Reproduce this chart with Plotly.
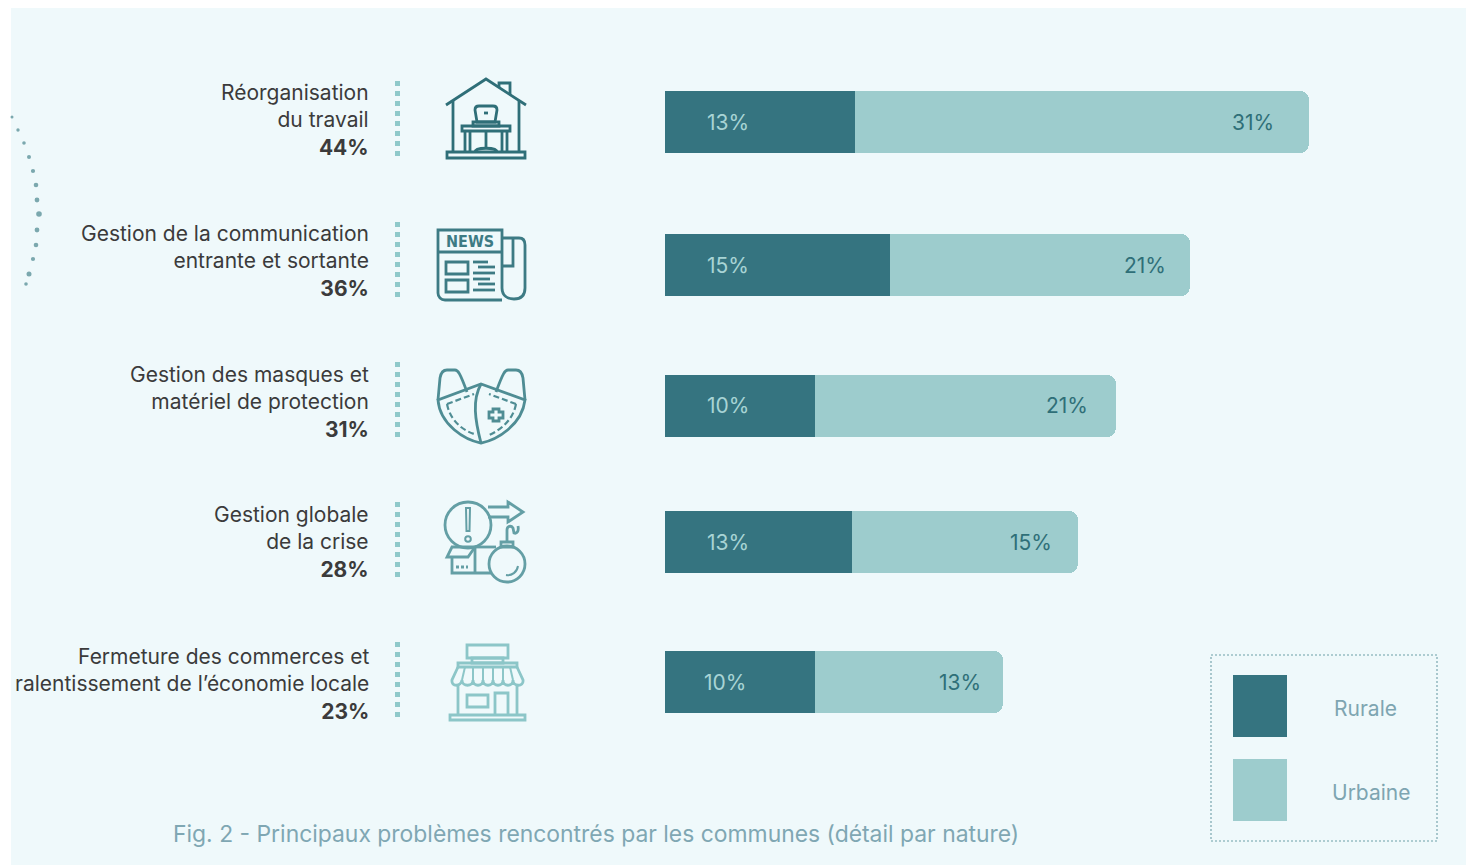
import plotly.graph_objects as go

W, H = 1466, 866

# ---- chart data ----
categories = [
    "Réorganisation<br>du travail<br><b>44%</b>",
    "Gestion de la communication<br>entrante et sortante<br><b>36%</b>",
    "Gestion des masques et<br>matériel de protection<br><b>31%</b>",
    "Gestion globale<br>de la crise<br><b>28%</b>",
    "Fermeture des commerces et<br>ralentissement de l’économie locale<br><b>23%</b>",
]
rural_drawn = [12.98, 15.37, 10.25, 12.8, 10.25]
urban_drawn = [31.0, 20.5, 20.56, 15.44, 12.84]
rural_labels = ["13%", "15%", "10%", "13%", "10%"]
urban_labels = ["31%", "21%", "21%", "15%", "13%"]
series_names = ["Rurale", "Urbaine"]
caption = "Fig. 2 - Principaux problèmes rencontrés par les communes (détail par nature)"

# ---- layout / style (kept apart from the data) ----
FONT = "Inter, Lato, 'Noto Sans', sans-serif"
BG = "#eff9fb"
DARK = "#357480"
LIGHT = "#9dcccd"
row_tops = [91, 234, 375, 511, 651]
row_h = 62
rural_shift = [40, 40, 40, 40, 37]
urban_shift = [-33, -22, -26, -24, -20]
label_yshift = [2, 4, 4, 0, -2]


def X(v):
    return v / W


def Y(v):
    return 1 - v / H


def path(d):
    """SVG-like list [('M',x,y),...] in page pixels -> paper path string"""
    out = []
    for seg in d:
        cmd = seg[0]
        nums = seg[1:]
        pts = []
        for i in range(0, len(nums), 2):
            pts.append(f"{X(nums[i]):.5f},{Y(nums[i+1]):.5f}")
        out.append(cmd + " ".join(pts))
    return " ".join(out)


def poly(*pts, close=False):
    d = [("M",) + pts[0]] + [("L",) + p for p in pts[1:]]
    s = path(d)
    return s + (" Z" if close else "")


def rect_p(x0, y0, x1, y1):
    return poly((x0, y0), (x1, y0), (x1, y1), (x0, y1), close=True)


def circle_p(cx, cy, r):
    k = 0.5523 * r
    return path([
        ("M", cx - r, cy),
        ("C", cx - r, cy - k, cx - k, cy - r, cx, cy - r),
        ("C", cx + k, cy - r, cx + r, cy - k, cx + r, cy),
        ("C", cx + r, cy + k, cx + k, cy + r, cx, cy + r),
        ("C", cx - k, cy + r, cx - r, cy + k, cx - r, cy),
    ]) + " Z"


shapes = []


def stroke(p, color, width=2.8, fill=None, dash=None):
    line = dict(color=color, width=width)
    if dash:
        line["dash"] = dash
    s = dict(type="path", xref="paper", yref="paper", path=p, line=line, layer="above")
    if fill:
        s["fillcolor"] = fill
    shapes.append(s)


def box(x0, y0, x1, y1, fill=None, color=None, width=0, dash=None, layer="below"):
    line = dict(color=color or "rgba(0,0,0,0)", width=width)
    if dash:
        line["dash"] = dash
    shapes.append(dict(type="rect", xref="paper", yref="paper",
                       x0=X(x0), x1=X(x1), y0=Y(y0), y1=Y(y1),
                       fillcolor=fill or "rgba(0,0,0,0)", line=line, layer=layer))


# page panel
box(11, 8, 1466, 865, fill=BG)

# dotted row separators
for y0, y1 in [(81, 157), (222, 300), (362, 438), (502, 578), (642, 718)]:
    shapes.append(dict(type="line", xref="paper", yref="paper", x0=X(397.5), x1=X(397.5),
                       y0=Y(y0), y1=Y(y1), line=dict(color="#8fc9ca", width=5, dash="5px,5px"),
                       layer="below"))

# decorative arc of dots
for x, y, r in [(12, 117, 1.5), (18, 130, 1.7), (24, 143, 1.8), (29, 157, 2.0), (33, 171, 2.1),
                (36, 185, 2.3), (37, 200, 2.4), (39, 214, 2.8), (37, 230, 2.4), (36, 245, 2.3),
                (33, 259, 2.1), (29, 274, 2.5), (26, 284, 1.8)]:
    shapes.append(dict(type="circle", xref="paper", yref="paper",
                       x0=X(x - r), x1=X(x + r), y0=Y(y + r), y1=Y(y - r),
                       fillcolor="#7ba8ae", line=dict(width=0), layer="below"))

# ---- icon: house
c = "#2f6f78"
stroke(poly((446, 105), (486, 79), (526, 105)), c)
stroke(poly((499, 88), (499, 83), (510, 83), (510, 95)), c)
stroke(poly((453, 101), (453, 152)), c)
stroke(poly((519, 101), (519, 152)), c)
stroke(rect_p(447, 152, 525, 158), c)
stroke(rect_p(462, 126, 510, 131), c)
stroke(poly((465, 131), (465, 152)), c)
stroke(poly((470, 131), (470, 152)), c)
stroke(poly((502, 131), (502, 152)), c)
stroke(poly((507, 131), (507, 152)), c)
stroke(path([("M", 477, 122), ("L", 475, 110), ("C", 475, 107, 477, 106, 479, 106), ("L", 493, 106),
             ("C", 495, 106, 497, 107, 497, 110), ("L", 495, 122)]) + " Z", c)
stroke(rect_p(473, 122, 499, 126), c)
stroke(poly((486, 131), (486, 147)), c)
stroke(path([("M", 475, 152), ("C", 475, 147, 497, 147, 497, 152)]), c)
stroke(poly((484, 113), (488, 113)), c)

# ---- icon: newspaper
c = "#3d7b84"
stroke(path([("M", 502, 300), ("L", 445, 300), ("C", 441, 300, 438, 297, 438, 293), ("L", 438, 230),
             ("L", 502, 230), ("L", 502, 288), ("C", 502, 296, 508, 299, 514, 299),
             ("C", 522, 299, 525, 295, 525, 288), ("L", 525, 245), ("C", 525, 240, 523, 238, 519, 238),
             ("L", 502, 238)]), c)
stroke(poly((438, 252), (502, 252)), c)
stroke(path([("M", 513, 238), ("L", 513, 266), ("L", 502, 266)]), c)
stroke(rect_p(446, 262, 468, 274), c)
stroke(rect_p(446, 280, 468, 292), c)
for yy, a, b in [(262, 473, 488), (267, 478, 495), (273, 473, 495), (279, 473, 490), (284, 478, 495), (290, 473, 495)]:
    stroke(poly((a, yy), (b, yy)), c)

# ---- icon: mask
c = "#4f8d94"
stroke(path([("M", 438, 400), ("C", 440, 425, 465, 440, 481, 443), ("C", 497, 440, 522, 425, 525, 400),
             ("L", 481, 384), ("L", 438, 400)]) + " Z", c)
stroke(path([("M", 438, 400), ("L", 440, 378), ("C", 441, 372, 444, 370, 447, 370), ("L", 455, 370),
             ("C", 458, 370, 460, 373, 467, 392)]), c)
stroke(path([("M", 525, 400), ("L", 523, 378), ("C", 522, 372, 519, 370, 516, 370), ("L", 508, 370),
             ("C", 505, 370, 503, 373, 496, 392)]), c)
stroke(path([("M", 481, 384), ("C", 472, 400, 475, 420, 481, 443)]), c)
stroke(path([("M", 447, 404), ("C", 450, 420, 462, 430, 474, 434)]), c, width=2.2, dash="6px,3px")
stroke(path([("M", 516, 404), ("C", 513, 420, 501, 430, 487, 436)]), c, width=2.2, dash="6px,3px")
stroke(poly((447, 404), (474, 394)), c, width=2.2, dash="6px,3px")
stroke(poly((516, 404), (489, 394)), c, width=2.2, dash="6px,3px")
stroke(poly((493, 409), (499, 409), (499, 412), (503, 412), (503, 418), (499, 418), (499, 421), (493, 421),
            (493, 418), (489, 418), (489, 412), (493, 412), close=True), c)

# ---- icon: crisis
c = "#649fa5"
stroke(circle_p(468, 525, 23), c)
stroke(poly((466, 508), (470, 508), (469.5, 531), (466.5, 531), close=True), c, width=2)
stroke(circle_p(468, 539, 2.8), c, width=2)
stroke(poly((488, 507), (508, 507), (508, 502), (523, 512), (508, 522), (508, 517), (488, 517)), c)
stroke(poly((447, 557), (452, 547), (475, 547), (468, 557), close=True), c)
stroke(poly((452, 557), (452, 573), (492, 573)), c)
stroke(poly((475, 547), (475, 573)), c)
stroke(poly((475, 547), (496, 547)), c)
stroke(poly((456, 567), (468, 567)), c, dash="3px,2px")
stroke(circle_p(507, 564, 18), c)
stroke(rect_p(501, 542, 513, 547), c)
stroke(path([("M", 507, 542), ("L", 507, 530), ("C", 507, 526, 511, 525, 513, 528), ("L", 514, 533),
             ("C", 517, 534, 519, 531, 518, 526)]), c)
stroke(path([("M", 506, 575), ("C", 512, 576, 517, 572, 518, 566)]), c, width=2)

# ---- icon: shop
c = "#8cc6c8"
stroke(rect_p(467, 645, 508, 658), c)
stroke(rect_p(472, 658, 503, 663), c)
stroke(rect_p(458, 663, 517, 667), c)
stroke(path([("M", 458, 667), ("L", 452, 680), ("C", 451, 687, 461, 687, 462, 680),
             ("C", 462, 687, 473, 687, 473, 680), ("C", 473, 687, 483, 687, 483, 680),
             ("C", 483, 687, 493, 687, 493, 680), ("C", 493, 687, 503, 687, 503, 680),
             ("C", 503, 687, 513, 687, 513, 680), ("C", 513, 687, 524, 687, 523, 680),
             ("L", 517, 667)]), c)
for a, b in [(462, 465), (473, 473), (483, 483), (493, 493), (503, 503), (513, 510)]:
    stroke(poly((a, 680), (b, 667)), c, width=2)
stroke(poly((458, 685), (458, 715)), c)
stroke(poly((517, 685), (517, 715)), c)
stroke(rect_p(467, 695, 488, 707), c)
stroke(poly((495, 715), (495, 693), (508, 693), (508, 715)), c)
stroke(rect_p(450, 715, 525, 720), c)

# ---- legend box (hand built: swatches are far larger than a plotly legend's)
box(1211, 655, 1437, 841, color="#6d9fa8", width=1.1, dash="2px,2px")
box(1233, 675, 1287, 737, fill=DARK)
box(1233, 759, 1287, 821, fill=LIGHT)

# ---- bars: one row per y axis, all sharing the value axis
fig = go.Figure()
annotations = []
layout_axes = {}
for i, cat in enumerate(categories):
    yname = "y" if i == 0 else f"y{i+1}"
    ykey = "yaxis" if i == 0 else f"yaxis{i+1}"
    fig.add_trace(go.Bar(y=[cat], x=[rural_drawn[i]], name=series_names[0], orientation="h",
                         marker=dict(color=DARK, line=dict(width=0)), xaxis="x", yaxis=yname,
                         showlegend=False))
    fig.add_trace(go.Bar(y=[cat], x=[urban_drawn[i]], name=series_names[1], orientation="h",
                         marker=dict(color=LIGHT, line=dict(width=0)), xaxis="x", yaxis=yname,
                         showlegend=False))
    top = row_tops[i]
    layout_axes[ykey] = dict(
        domain=[Y(top + row_h), Y(top)], anchor="x", type="category",
        range=[-0.5, 0.5], autorange=False,
        showgrid=False, zeroline=False, showline=False, ticks="",
        showticklabels=False, automargin=False,
    )
    # row label, right aligned left of the icon column
    annotations.append(dict(x=0, y=cat, xref="x", yref=yname, text=cat, showarrow=False,
                            xanchor="right", align="right", yanchor="middle",
                            xshift=-295, yshift=label_yshift[i], borderpad=0,
                            font=dict(family=FONT, size=21, color="#3b3b3b")))
    annotations.append(dict(x=0, y=cat, xref="x", yref=yname, text=rural_labels[i], showarrow=False,
                            xanchor="left", xshift=rural_shift[i],
                            font=dict(family=FONT, size=21, color="#a8d4d5")))
    annotations.append(dict(x=rural_drawn[i] + urban_drawn[i], y=cat, xref="x", yref=yname,
                            text=urban_labels[i], showarrow=False, xanchor="right",
                            xshift=urban_shift[i],
                            font=dict(family=FONT, size=21, color="#2f6f78")))

# legend labels
annotations.append(dict(x=X(1365.5), y=Y(708), xref="paper", yref="paper", text=series_names[0],
                        showarrow=False, xanchor="center", yanchor="middle",
                        font=dict(family=FONT, size=21, color="#7ea5b1")))
annotations.append(dict(x=X(1370.5), y=Y(792), xref="paper", yref="paper", text=series_names[1],
                        showarrow=False, xanchor="center", yanchor="middle",
                        font=dict(family=FONT, size=21, color="#7ea5b1")))
# newspaper masthead
annotations.append(dict(x=X(470), y=Y(241.5), xref="paper", yref="paper", text="<b>NEWS</b>",
                        showarrow=False, xanchor="center", yanchor="middle",
                        font=dict(family="'DejaVu Sans Condensed', 'DejaVu Sans', sans-serif",
                                  size=16, color="#3d7b84")))

fig.update_layout(
    width=W, height=H, margin=dict(l=0, r=0, t=0, b=0),
    paper_bgcolor="white", plot_bgcolor="rgba(0,0,0,0)",
    barmode="stack", bargap=0, barcornerradius=9,
    showlegend=False,
    title=dict(text=caption, x=X(173), xref="paper", xanchor="left", y=Y(834), yref="paper",
               yanchor="middle", font=dict(family=FONT, size=22.9, color="#7fa7b3")),
    xaxis=dict(domain=[X(665), X(1309)], range=[0, 44], visible=False, anchor="y"),
    shapes=shapes, annotations=annotations,
    **layout_axes,
)

fig.write_html("out.html", config=dict(displayModeBar=False),
               post_script="document.body.style.margin='0';document.body.style.overflow='hidden';")
